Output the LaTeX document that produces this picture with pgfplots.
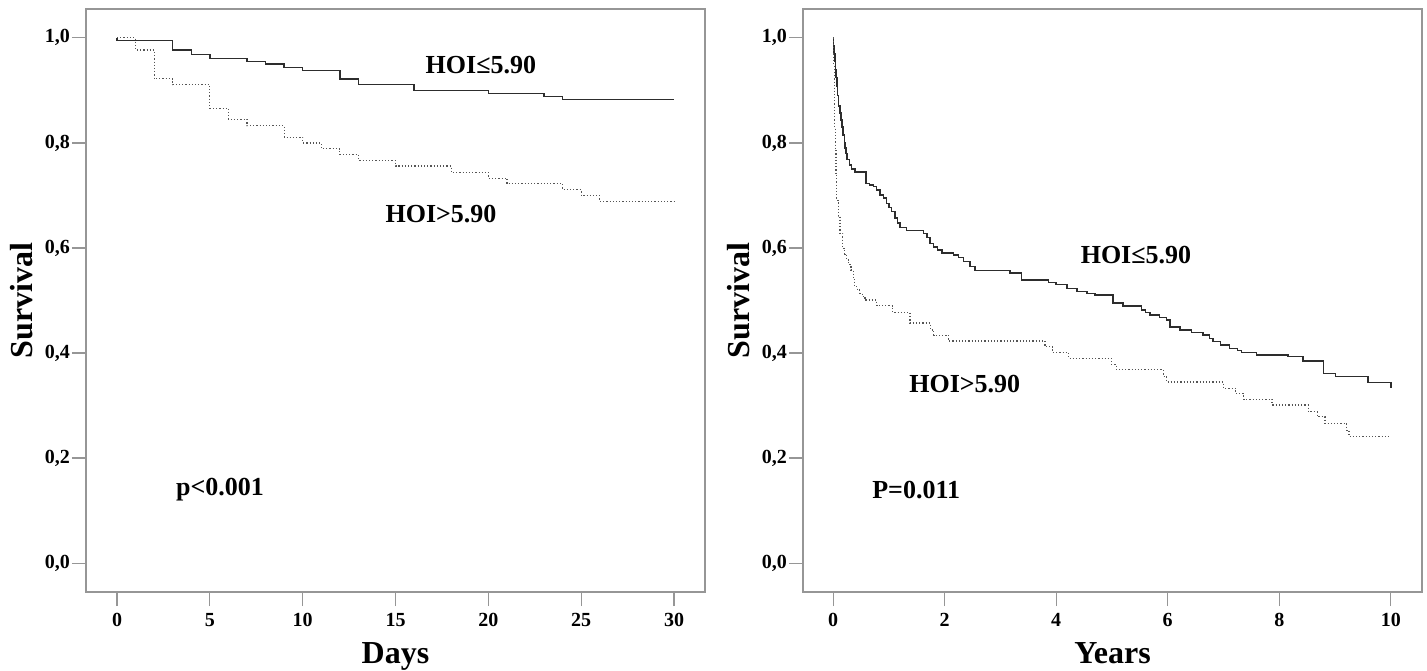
\documentclass[border=0pt]{standalone}
\usepackage{fontspec}
\setmainfont{Liberation Serif}
\usepackage{pgfplots}
\pgfplotsset{compat=1.18}
\definecolor{axgray}{RGB}{150,150,150}
\definecolor{solidc}{RGB}{45,45,45}
\definecolor{dotc}{RGB}{85,85,85}
\tikzset{lab/.style={font=\fontsize{13}{15}\selectfont\bfseries, anchor=center}}
\begin{document}
\begin{tikzpicture}
\pgfplotsset{
  kmstyle/.style={
    scale only axis, width=309.5pt, height=291.5pt,
    anchor=south west,
    axis line style={axgray, line width=0.6pt},
    tick style={axgray, line width=0.6pt},
    tick align=outside, major tick length=7pt,
    tick pos=left,
    ymin=-0.055, ymax=1.055,
    ytick={0,0.2,0.4,0.6,0.8,1},
    yticklabels={{0,0},{0,2},{0,4},{0,6},{0,8},{1,0}},
    /pgf/number format/assume math mode=true,
    tick label style={font=\fontsize{10}{12}\selectfont\bfseries, black},
    yticklabel style={xshift=2.5pt},
    label style={font=\fontsize{16}{19}\selectfont\bfseries},
    ylabel={Survival},
    ylabel style={at={(axis description cs:0,0.5)}, anchor=center, rotate=0, yshift=32pt},
    xlabel style={at={(axis description cs:0.5,0)}, anchor=base, yshift=-35.5pt},
  },
  solidkm/.style={const plot, solidc, line width=0.75pt, no marks},
  dotkm/.style={const plot, dotc, densely dotted, line width=0.6pt, no marks},
}
\path[use as bounding box] (0,0) rectangle (713.5pt,335pt);

\begin{axis}[kmstyle, at={(43pt,39pt)},
  xmin=-1.67, xmax=31.67,
  xtick={0,5,10,15,20,25,30},
  xlabel={Days}]
\addplot[solidkm] coordinates {
(0,1.0) (0,0.995) (3,0.977) (4,0.968) (5,0.961) (7,0.955) (8,0.950) (9,0.944)
(10,0.938) (12,0.922) (13,0.911) (16,0.900) (20,0.894) (23,0.888) (24,0.883) (30,0.883)};
\addplot[dotkm] coordinates {
(0,1.0) (1,0.977) (2,0.922) (3,0.911) (5,0.866) (6,0.845) (7,0.833) (9,0.811)
(10,0.800) (11,0.789) (12,0.778) (13,0.767) (15,0.756) (18,0.744) (20,0.733)
(21,0.722) (24,0.711) (25,0.700) (26,0.689) (30,0.689)};
\node[lab] at (axis cs:19.6,0.949) {HOI≤5.90};
\node[lab] at (axis cs:17.45,0.665) {HOI>5.90};
\node[lab] at (axis cs:5.55,0.139) {p<0.001};
\end{axis}

\begin{axis}[kmstyle, at={(401.5pt,39pt)},
  xmin=-0.54, xmax=10.56,
  xtick={0,2,4,6,8,10},
  xlabel={Years}]
\addplot[solidkm] coordinates {
(0,1.0) (0.01,0.985) (0.02,0.97) (0.03,0.955) (0.04,0.94) (0.05,0.925) (0.066,0.907)
(0.08,0.89) (0.1,0.87) (0.12,0.857) (0.14,0.844) (0.16,0.83) (0.18,0.815) (0.2,0.80)
(0.215,0.790) (0.23,0.78) (0.25,0.768) (0.29,0.758) (0.33,0.750) (0.39,0.745)
(0.59,0.723) (0.65,0.720) (0.72,0.717) (0.78,0.710) (0.84,0.701) (0.90,0.695)
(0.96,0.685) (1.0,0.677) (1.05,0.669) (1.11,0.657) (1.15,0.648) (1.20,0.639)
(1.32,0.633) (1.62,0.628) (1.68,0.620) (1.74,0.609) (1.80,0.602) (1.87,0.596)
(1.95,0.590) (2.16,0.587) (2.25,0.582) (2.34,0.574) (2.45,0.565) (2.54,0.557)
(3.17,0.552) (3.38,0.539) (3.86,0.534) (4.0,0.530) (4.19,0.523) (4.37,0.517)
(4.55,0.513) (4.70,0.510) (5.02,0.495) (5.20,0.490) (5.53,0.482) (5.60,0.477)
(5.68,0.472) (5.85,0.468) (5.98,0.463) (6.04,0.450) (6.22,0.444) (6.43,0.439)
(6.63,0.434) (6.75,0.428) (6.81,0.422) (6.95,0.415) (7.11,0.409) (7.25,0.405)
(7.32,0.401) (7.59,0.396) (8.16,0.393) (8.43,0.385) (8.79,0.361) (9.01,0.355)
(9.59,0.344) (10.0,0.344) (10.0,0.333)};
\addplot[dotkm] coordinates {
(0,1.0) (0.01,0.95) (0.02,0.90) (0.03,0.83) (0.036,0.787) (0.05,0.74) (0.066,0.691)
(0.09,0.66) (0.125,0.628) (0.17,0.599) (0.21,0.588) (0.245,0.577) (0.28,0.568)
(0.32,0.558) (0.36,0.540) (0.39,0.526) (0.44,0.520) (0.48,0.514) (0.52,0.508)
(0.57,0.501) (0.78,0.490) (1.07,0.477) (1.38,0.457) (1.74,0.444) (1.80,0.434)
(2.07,0.423) (3.80,0.412) (3.94,0.401) (4.22,0.390) (4.99,0.378) (5.08,0.368)
(5.92,0.356) (5.98,0.345) (7.00,0.333) (7.22,0.323) (7.36,0.312) (7.87,0.301)
(8.52,0.288) (8.68,0.279) (8.82,0.266) (9.21,0.253) (9.25,0.241) (10.0,0.241)};
\node[lab] at (axis cs:5.43,0.587) {HOI≤5.90};
\node[lab] at (axis cs:2.36,0.341) {HOI>5.90};
\node[lab] at (axis cs:1.49,0.139) {P=0.011};
\end{axis}
\end{tikzpicture}
\end{document}
